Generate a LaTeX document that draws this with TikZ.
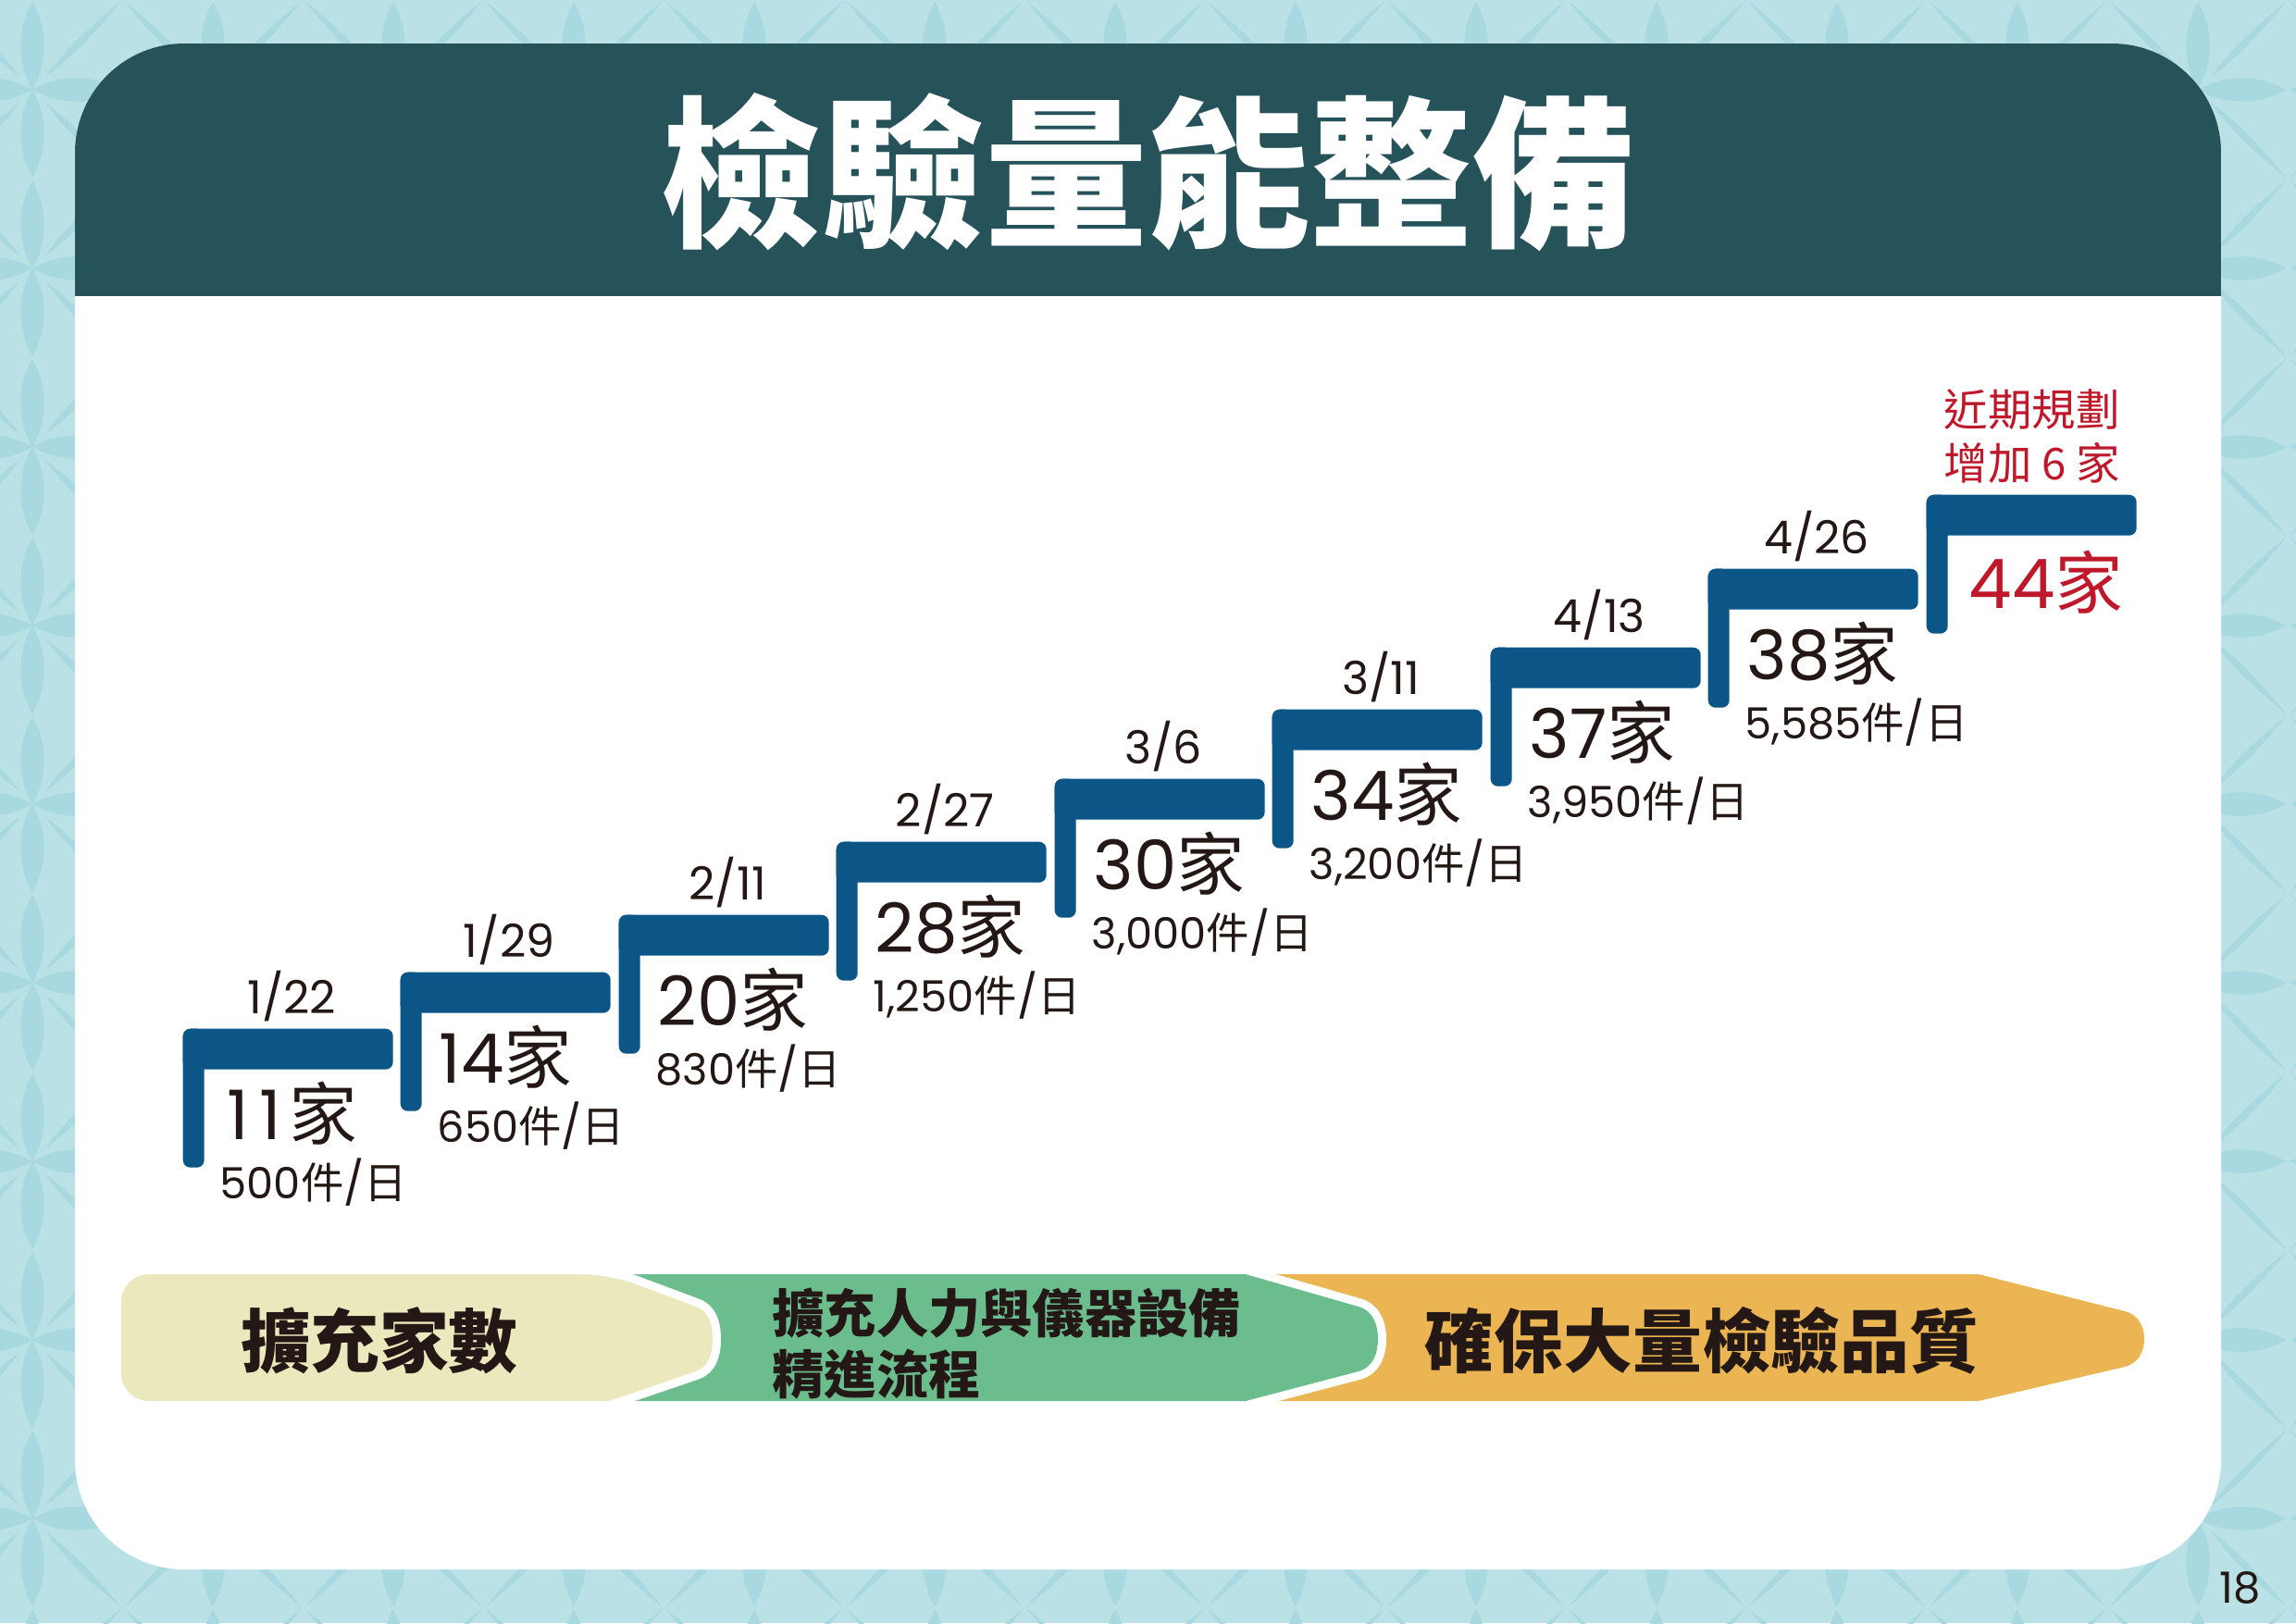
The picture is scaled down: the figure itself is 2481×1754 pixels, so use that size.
\documentclass[tikz,border=0pt]{standalone}
\usepackage{fontspec}
\setmainfont{Noto Sans CJK TC}
\newfontfamily\cjkfont{Noto Sans CJK TC}
\newfontfamily\numfont{Poppins}
\newcommand\zh[1]{{\cjkfont#1}}
\usetikzlibrary{positioning,calc}
\definecolor{sky}{HTML}{B9E1E6}
\definecolor{skyleaf}{HTML}{A8D9E0}
\definecolor{header}{HTML}{26525A}
\definecolor{stepblue}{HTML}{0B5587}
\definecolor{ink}{HTML}{231815}
\definecolor{planred}{HTML}{C0182B}
\definecolor{phaseone}{HTML}{EBE8BE}
\definecolor{phasetwo}{HTML}{6BBD8E}
\definecolor{phasethree}{HTML}{EAB552}
\tikzset{
  every node/.style={text=ink,inner sep=0pt},
  tread/.style={fill=stepblue,rounded corners=0.8mm,minimum width=22.7mm,minimum height=4.4mm,anchor=north west},
  riser/.style={fill=stepblue,rounded corners=0.8mm,minimum width=2.3mm,minimum height=15mm,anchor=north west},
  datelbl/.style={anchor=base,font=\numfont\fontsize{14pt}{16pt}\selectfont},
  countlbl/.style={anchor=base west,font=\numfont\fontsize{21pt}{24pt}\selectfont},
  ratelbl/.style={anchor=base west,font=\numfont\fontsize{13.2pt}{15pt}\selectfont},
  planlbl/.style={anchor=north west,align=left,text=planred,font=\fontsize{13.5pt}{16.5pt}\selectfont},
  phase/.style={font=\bfseries\fontsize{21.3pt}{24pt}\selectfont},
  phasesmall/.style={anchor=west,align=left,font=\bfseries\fontsize{16pt}{18.8pt}\selectfont},
  halo/.style={preaction={draw=white,line width=1.8mm,line join=round}},
  leaf/.style={fill=skyleaf}
}
\begin{document}
\begin{tikzpicture}[x=0.1mm,y=-0.1mm]
  \useasboundingbox (0,0) rectangle (2481,1754);
  % backdrop pattern
  \fill[sky] (0,0) rectangle (2481,1754);
  \begin{scope}
    \clip (0,0) rectangle (2481,1754);
    \foreach \cx in {35,230,...,2600}
      \foreach \cy in {97,290,...,1900}
        \foreach \a in {0,90,180,270} {
          \fill[leaf,shift={(\cx,\cy)},rotate=\a] (0,0) .. controls (30,17) and (65,17) .. (95,0) .. controls (65,-17) and (30,-17) .. (0,0) -- cycle;
          \fill[leaf,shift={(\cx,\cy)},rotate=\a+45] (20,0) .. controls (50,5) and (90,5) .. (135,0) .. controls (90,-5) and (50,-5) .. (20,0) -- cycle;
        }
  \end{scope}

  % card and header
  \fill[white,rounded corners=11.8mm] (81,47) rectangle (2400,1696);
  \begin{scope}
    \clip[rounded corners=11.8mm] (81,47) rectangle (2400,1696);
    \fill[header] (81,47) rectangle (2400,320);
  \end{scope}
  \node[text=white,font=\bfseries\fontsize{50pt}{56pt}\selectfont] (title) at (1240,186) {檢驗量能整備};

  % staircase
  \node[tread] (bar1) at (197,1111) {};
  \node[riser] (post1) at (bar1.north west) {};
  \node[datelbl] (date1) at ($(bar1.north)+(4,-16)$) {1/22};
  \node[countlbl] (count1) at ($(bar1.north west)+(42,120)$) {\kern0.08em1\kern0.16em1\kern0.1em\zh{家}};
  \node[ratelbl] (rate1) at ($(bar1.north west)+(40,184)$) {500\zh{件}/\zh{日}};

  \node[tread] (bar2) at (432,1050) {};
  \node[riser] (post2) at (bar2.north west) {};
  \node[datelbl] (date2) at ($(bar2.north)+(4,-16)$) {1/29};
  \node[countlbl] (count2) at ($(bar2.north west)+(42,120)$) {14\zh{家}};
  \node[ratelbl] (rate2) at ($(bar2.north west)+(40,184)$) {650\zh{件}/\zh{日}};

  \node[tread] (bar3) at (668,988) {};
  \node[riser] (post3) at (bar3.north west) {};
  \node[datelbl] (date3) at ($(bar3.north)+(4,-16)$) {2/11};
  \node[countlbl] (count3) at ($(bar3.north west)+(42,120)$) {20\zh{家}};
  \node[ratelbl] (rate3) at ($(bar3.north west)+(40,184)$) {830\zh{件}/\zh{日}};

  \node[tread] (bar4) at (903,909) {};
  \node[riser] (post4) at (bar4.north west) {};
  \node[datelbl] (date4) at ($(bar4.north)+(4,-16)$) {2/27};
  \node[countlbl] (count4) at ($(bar4.north west)+(42,120)$) {28\zh{家}};
  \node[ratelbl] (rate4) at ($(bar4.north west)+(40,184)$) {1,250\zh{件}/\zh{日}};

  \node[tread] (bar5) at (1139,841) {};
  \node[riser] (post5) at (bar5.north west) {};
  \node[datelbl] (date5) at ($(bar5.north)+(4,-16)$) {3/6};
  \node[countlbl] (count5) at ($(bar5.north west)+(42,120)$) {30\zh{家}};
  \node[ratelbl] (rate5) at ($(bar5.north west)+(40,184)$) {3,000\zh{件}/\zh{日}};

  \node[tread] (bar6) at (1374,766) {};
  \node[riser] (post6) at (bar6.north west) {};
  \node[datelbl] (date6) at ($(bar6.north)+(4,-16)$) {3/11};
  \node[countlbl] (count6) at ($(bar6.north west)+(42,120)$) {34\zh{家}};
  \node[ratelbl] (rate6) at ($(bar6.north west)+(40,184)$) {3,200\zh{件}/\zh{日}};

  \node[tread] (bar7) at (1610,699) {};
  \node[riser] (post7) at (bar7.north west) {};
  \node[datelbl] (date7) at ($(bar7.north)+(4,-16)$) {4/13};
  \node[countlbl] (count7) at ($(bar7.north west)+(42,120)$) {37\zh{家}};
  \node[ratelbl] (rate7) at ($(bar7.north west)+(40,184)$) {3,950\zh{件}/\zh{日}};

  \node[tread] (bar8) at (1845,614) {};
  \node[riser] (post8) at (bar8.north west) {};
  \node[datelbl] (date8) at ($(bar8.north)+(4,-16)$) {4/26};
  \node[countlbl] (count8) at ($(bar8.north west)+(42,120)$) {38\zh{家}};
  \node[ratelbl] (rate8) at ($(bar8.north west)+(40,184)$) {5,585\zh{件}/\zh{日}};

  \node[tread] (bar9) at (2081,534) {};
  \node[riser] (post9) at (bar9.north west) {};
  \node[planlbl] (plan) at ($(bar9.north west)+(19,-114)$) {近期規劃\\增加~6~家};
  \node[countlbl,text=planred] (count9) at ($(bar9.north west)+(46,123)$) {44\zh{家}};

  % phases
  \fill[phasethree] (1300,1377) -- (2138,1377) -- (2296,1417) to[out=-14,in=90] (2317,1447) to[out=-90,in=14] (2296,1477) -- (2138,1514) -- (1300,1514) -- cycle;
  \fill[phasetwo,halo] (600,1377) -- (1346,1377) -- (1468,1412) to[out=-16,in=90] (1489,1447) to[out=-90,in=16] (1468,1482) -- (1346,1514) -- (600,1514) -- cycle;
  \fill[phaseone,halo] (658,1377) -- (752,1412) to[out=-20,in=90] (770,1447) to[out=-90,in=20] (752,1482) -- (658,1514) [rounded corners=3mm] -- (131,1514) -- (131,1377) -- cycle;
  \node[phase] (phaseA) at (410,1449) {擴充家數};
  \node[phasesmall] (phaseB) at (834,1452) {擴充人力與儀器設備\\精進流程};
  \node[phase] (phaseC) at (1839,1449) {確保大量檢驗品質};

  \node[anchor=base,font=\numfont\fontsize{13.2pt}{15pt}\selectfont] (pageno) at (2421,1732) {18};
\end{tikzpicture}
\end{document}
